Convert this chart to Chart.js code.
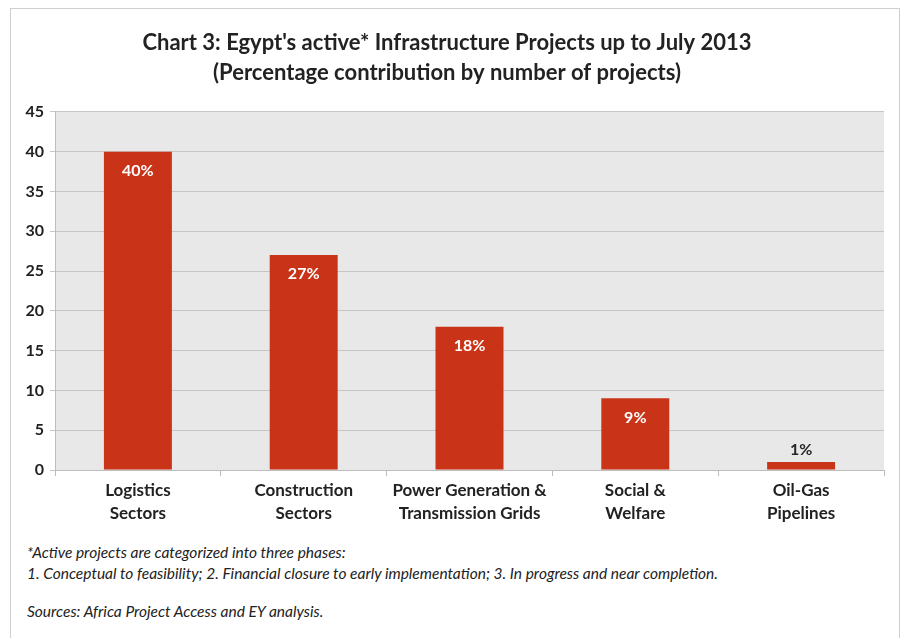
<!DOCTYPE html>
<html>
<head>
<meta charset="utf-8">
<script src="https://cdn.jsdelivr.net/npm/chart.js@4.4.0/dist/chart.umd.min.js"></script>
<style>
  body { margin: 0; background: #fff; font-family: Lato, sans-serif; }
  #frame { position: absolute; left: 10px; top: 8px; width: 890px; height: 640px; border: 1px solid #cfcfcf; box-sizing: border-box; }
  #wrap { position: absolute; left: 0; top: 0; width: 903px; height: 540px; }
  .note { position: absolute; left: 27px; font-style: italic; font-size: 15.5px; color: #222; white-space: nowrap; }
</style>
</head>
<body>
<div id="frame"></div>
<div id="wrap"><canvas id="mychart"></canvas></div>
<div class="note" style="top:543px">*Active projects are categorized into three phases:</div>
<div class="note" style="top:564px">1. Conceptual to feasibility; 2. Financial closure to early implementation; 3. In progress and near completion.</div>
<div class="note" style="top:602px">Sources: Africa Project Access and EY analysis.</div>
<script>
// chart 3 data
var sectors = [['Logistics', 'Sectors'], ['Construction', 'Sectors'], ['Power Generation &', 'Transmission Grids'], ['Social &', 'Welfare'], ['Oil-Gas', 'Pipelines']];
var shares = [40, 27, 18, 9, 1];
var shareLabels = ['40%', '27%', '18%', '9%', '1%'];
var yTicks = [0, 5, 10, 15, 20, 25, 30, 35, 40, 45];

const ctx = document.getElementById('mychart');

// grey plot background
const plotBg = {
  id: 'plotBg',
  beforeDraw(chart) {
    const a = chart.chartArea;
    const c = chart.ctx;
    c.save();
    c.fillStyle = '#e8e8e8';
    c.fillRect(a.left, a.top, a.right - a.left, a.bottom - a.top);
    c.restore();
  }
};

// percentage labels on bars
const barLabels = {
  id: 'barLabels',
  afterDatasetsDraw(chart) {
    const c = chart.ctx;
    const meta = chart.getDatasetMeta(0);
    c.save();
    c.font = 'bold 16px Lato';
    c.textAlign = 'center';
    c.textBaseline = 'middle';
    meta.data.forEach(function(bar, i) {
      var h = bar.base - bar.y;
      if (h > 30) {
        c.fillStyle = '#ffffff';
        c.fillText(shareLabels[i], bar.x, bar.y + 19);
      } else {
        c.fillStyle = '#262626';
        c.fillText(shareLabels[i], bar.x, bar.y - 12);
      }
    });
    c.restore();
  }
};

new Chart(ctx, {
  type: 'bar',
  data: {
    labels: sectors,
    datasets: [{
      data: shares,
      backgroundColor: '#c93418',
      categoryPercentage: 0.41,
      barPercentage: 1.0
    }]
  },
  options: {
    responsive: true,
    maintainAspectRatio: false,
    animation: false,
    layout: { padding: { left: 10, right: 19, top: 0, bottom: 10 } },
    plugins: {
      legend: { display: false },
      tooltip: { enabled: false },
      title: {
        display: true,
        text: ["Chart 3: Egypt's active* Infrastructure Projects up to July 2013", '(Percentage contribution by number of projects)'],
        color: '#222',
        font: { family: 'Lato', size: 22, weight: 'bold', lineHeight: 1.36 },
        padding: { top: 28, bottom: 24 }
      }
    },
    scales: {
      x: {
        grid: { drawOnChartArea: false, drawTicks: true, tickLength: 6, color: '#bdbdbd', offset: true },
        border: { color: '#bdbdbd' },
        ticks: { color: '#222', font: { family: 'Lato', size: 17, weight: 'bold', lineHeight: 1.35 }, padding: 3, maxRotation: 0 },
        afterFit(scale) { scale.height = 60; }
      },
      y: {
        min: 0,
        max: 45,
        afterBuildTicks(scale) { scale.ticks = yTicks.map(function(v) { return { value: v }; }); },
        grid: { color: '#c6c6c6', tickLength: 5 },
        border: { color: '#bdbdbd' },
        ticks: { color: '#222', font: { family: 'Lato', size: 16, weight: 'bold' }, padding: 6 },
        afterFit(scale) { scale.width = 45; }
      }
    }
  },
  plugins: [plotBg, barLabels]
});
</script>
</body>
</html>
